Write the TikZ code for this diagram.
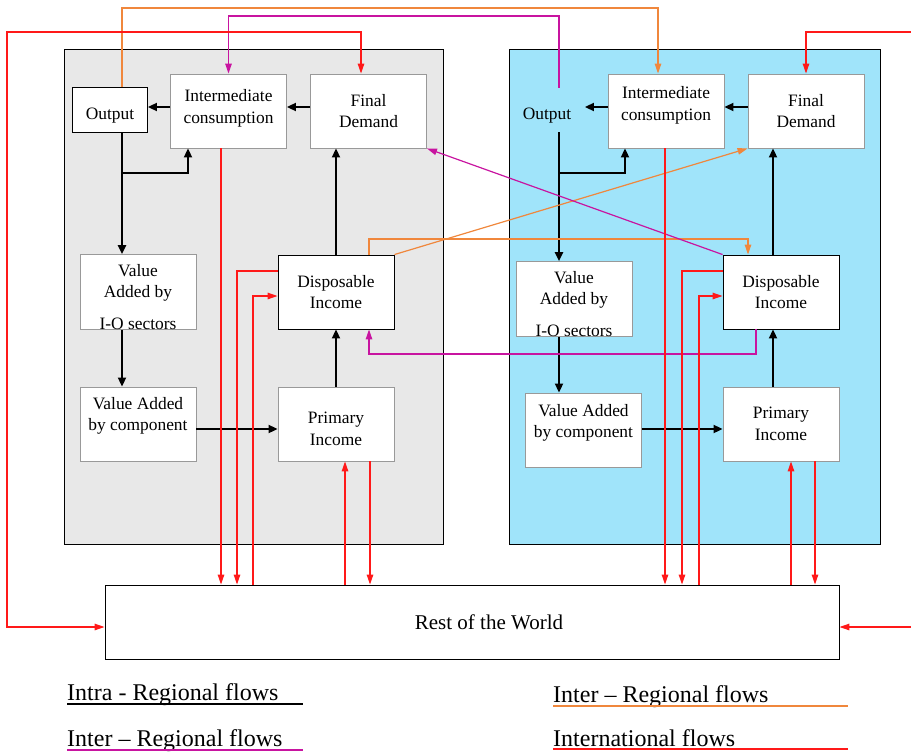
\documentclass[tikz,border=0pt]{standalone}
\usepackage{fontspec}
\setmainfont{Liberation Serif}
\usetikzlibrary{arrows.meta}

\definecolor{panelgray}{RGB}{232,232,232}
\definecolor{panelblue}{RGB}{160,228,250}
\definecolor{orangeflow}{RGB}{240,135,60}
\definecolor{magflow}{RGB}{200,20,160}
\definecolor{redflow}{RGB}{255,25,25}

\begin{document}
\begin{tikzpicture}[x=1pt,y=-1pt,
  panel/.style={draw=black,line width=0.8pt},
  box/.style={draw=black!40,line width=0.9pt,fill=white,minimum width=116pt,minimum height=74pt,
    inner sep=0pt,align=center,font=\fontsize{17.4}{21.5}\selectfont},
  bbox/.style={box,draw=black},
  intra/.style={line width=2pt,>={Triangle[length=9pt,width=8pt]}},
  flow/.style={line width=1.2pt,>={Triangle[length=10pt,width=6.5pt]}},
  legend/.style={anchor=base west,inner sep=0pt,font=\fontsize{24}{28}\selectfont}]
\useasboundingbox (0,0) rectangle (911,752);

% the two regions
\filldraw[panel,fill=panelgray] (64,49) rectangle (443,544);
\filldraw[panel,fill=panelblue] (509,49) rectangle (880,544);

% left region
\node[bbox,minimum width=75pt,minimum height=45pt,text height=22pt] (lout) at (110,110) {Output};
\node[box] (lic) at (228.5,111) {Intermediate\\consumption\\[-19pt]\strut};
\node[box] (lfd) at (368.5,111) {Final\\Demand};
\node[box] (lvs) at (138,292) {\strut\\[-15pt]Value\\Added by\\[10pt]I-O sectors};
\node[box] (lvc) at (138,424) {Value Added\\by component\\[-8pt]\strut};
\node[bbox] (ldi) at (336,292) {Disposable\\Income};
\node[box] (lpi) at (336,424) {\strut\\[-15pt]Primary\\Income};

% right region
\node[box,draw=none,fill=none,minimum width=75pt,minimum height=44pt,text height=22pt] (rout) at (547,110) {Output};
\node[box] (ric) at (666,111) {Intermediate\\consumption\\[-13pt]\strut};
\node[box] (rfd) at (806,111) {Final\\Demand};
\node[box] (rvs) at (574,299) {\strut\\[-15pt]Value\\Added by\\[10pt]I-O sectors};
\node[box] (rvc) at (583.5,430) {Value Added\\by component\\[-10pt]\strut};
\node[bbox] (rdi) at (781,292) {Disposable\\Income};
\node[box] (rpi) at (781,424) {Primary\\Income};

\node[box,draw=black,minimum width=734pt,font=\fontsize{21}{25}\selectfont] (row) at (472,622) {\hspace*{34pt}Rest of the World};

% intra-regional flows
\draw[intra,->] (lic.west |- 0,107) -- (lout.east |- 0,107);
\draw[intra,->] (lfd.west |- 0,107) -- (lic.east |- 0,107);
\draw[intra,->] (lout.south -| 122,0) -- (lvs.north -| 122,0);
\draw[intra,->] (122,173) -| (lic.south -| 188,0);
\draw[intra,->] (ldi.north) -- (lfd.south -| ldi.north);
\draw[intra,->] (lvs.south -| 122,0) -- (lvc.north -| 122,0);
\draw[intra,->] (lvc.east |- 0,429) -- (lpi.west |- 0,429);
\draw[intra,->] (lpi.north) -- (ldi.south);

\draw[intra,->] (ric.west |- 0,107) -- (rout.east |- 0,107);
\draw[intra,->] (rfd.west |- 0,107) -- (ric.east |- 0,107);
\draw[intra,->] (rout.south -| 559,0) -- (rvs.north -| 559,0);
\draw[intra,->] (559,173) -| (ric.south -| 625,0);
\draw[intra,->] (rdi.north -| 773,0) -- (rfd.south -| 773,0);
\draw[intra,->] (rvs.south -| 559,0) -- (rvc.north -| 559,0);
\draw[intra,->] (rvc.east |- 0,429) -- (rpi.west |- 0,429);
\draw[intra,->] (rpi.north -| 773,0) -- (rdi.south -| 773,0);

% inter-regional flows
\draw[flow,->,orangeflow] (lout.north -| 122,0) |- (658,8) -- (ric.north -| 658,0);
\draw[flow,->,orangeflow] (ldi.north -| 369,0) |- (748,239) -- (rdi.north -| 748,0);
\draw[flow,->,orangeflow] (ldi.north east) -- (rfd.south west);

\draw[flow,->,magflow] (rout.north -| 559,0) |- (228.5,16) -- (lic.north);
\draw[flow,->,magflow] (rdi.north west) -- (lfd.south east);
\draw[flow,->,magflow] (rdi.south -| 756,0) |- (369,354) -- (ldi.south -| 369,0);

% international flows
\draw[flow,<->,redflow] (row.west |- 0,627) -- (7,627) |- (361,32) -- (lfd.north -| 361,0);
\draw[flow,->,redflow] (911,32) -| (rfd.north -| 806,0);
\draw[flow,->,redflow] (911,627) -- (row.east |- 0,627);

\draw[flow,->,redflow] (lic.south -| 221,0) -- (row.north -| 221,0);
\draw[flow,->,redflow] (ldi.west |- 0,271) -| (row.north -| 237,0);
\draw[flow,->,redflow] (row.north -| 253,0) |- (ldi.west |- 0,296);
\draw[flow,->,redflow] (row.north -| 345,0) -- (lpi.south -| 345,0);
\draw[flow,->,redflow] (lpi.south -| 370,0) -- (row.north -| 370,0);

\draw[flow,->,redflow] (ric.south -| 665,0) -- (row.north -| 665,0);
\draw[flow,->,redflow] (rdi.west |- 0,271) -| (row.north -| 682,0);
\draw[flow,->,redflow] (row.north -| 699,0) |- (rdi.west |- 0,296);
\draw[flow,->,redflow] (row.north -| 791,0) -- (rpi.south -| 791,0);
\draw[flow,->,redflow] (rpi.south -| 815,0) -- (row.north -| 815,0);

% legend
\node[legend] (lgintra) at (67,700) {Intra - Regional flows};
\draw[line width=1.8pt] ([yshift=-4pt]lgintra.base west) -- ++(236,0);
\node[legend] (lgmag) at (67,746) {Inter – Regional flows};
\draw[line width=1.8pt,magflow] ([yshift=-4pt]lgmag.base west) -- ++(236,0);
\node[legend] (lgorange) at (553,702) {Inter – Regional flows};
\draw[line width=1.8pt,orangeflow] ([yshift=-4pt]lgorange.base west) -- ++(295,0);
\node[legend] (lgintl) at (553,746) {International flows};
\draw[line width=1.2pt,redflow] ([yshift=-3pt]lgintl.base west) -- ++(295,0);
\end{tikzpicture}
\end{document}
